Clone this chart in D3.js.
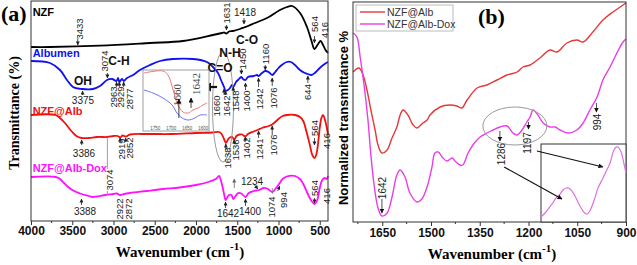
<!DOCTYPE html>
<html><head><meta charset="utf-8">
<script src="https://cdn.jsdelivr.net/npm/d3@7"></script>
<style>body{margin:0;background:#fff}text{font-family:"Liberation Sans",Arial,sans-serif}</style>
</head><body>
<svg id="c" width="637" height="265"></svg>
<script>
// ---------- Panel (a) spectra: [wavenumber, transmittance (a.u.)] ----------
const nzfA = [[4000,174],[3770,174],[3164,175.3],[2558,178],[2158,180],[1794,186],[1685,188],[1660,188.5],[1631,187.5],[1600,189.5],[1552,190],[1467,192],[1418,193.5],[1370,195],[1285,198],[1139,203],[982,211],[897,214],[836,215],[739,208],[655,194],[600,180],[564,172],[520,177],[490,180],[460,176],[430,171],[400,168]];
const albumenA = [[4000,160],[3770,158],[3648,151],[3564,141],[3491,134],[3382,132],[3248,132],[3164,135],[3079,141],[3018,142],[2963,140],[2945,143],[2929,139],[2897,142],[2877,140],[2836,143],[2764,146],[2679,151],[2558,156],[2436,160],[2279,162],[2036,162],[1867,159],[1794,154],[1733,148],[1697,141],[1660,134],[1642,130],[1612,131],[1588,133],[1564,136],[1548,134],[1515,139],[1491,141],[1450,144],[1430,142],[1400,141],[1370,144],[1300,145],[1260,146],[1242,145],[1200,148],[1160,150],[1120,149],[1076,146],[1040,149],[1000,153],[960,156],[900,159],[850,159],[800,156],[740,151],[680,148],[644,147],[600,146],[560,148],[500,153],[440,157],[400,159]];
const nzfAlbA = [[4000,106],[3700,106],[3650,103],[3600,99],[3550,94],[3500,89],[3450,85],[3386,83],[3300,83],[3200,84],[3074,84],[3000,85],[2950,85],[2919,83.5],[2890,85.5],[2852,84.5],[2800,86.5],[2600,87],[2300,87],[2000,88],[1800,88.5],[1720,89],[1690,87],[1660,82],[1638,78],[1615,81],[1590,83.5],[1560,84],[1536,81],[1510,85],[1470,86.5],[1440,86.5],[1402,84.5],[1370,87],[1300,89.5],[1241,91.5],[1200,93],[1120,95],[1076,96.5],[1040,99],[1000,102],[950,105],[900,106],[800,106],[740,104],[700,100],[660,89],[620,76],[590,66],[564,63],[540,67],[520,78],[500,93],[480,103],[460,106],[440,102],[416,94],[400,86]];
const nzfAlbDoxA = [[4000,44],[3700,44],[3650,42],[3600,38],[3550,34],[3500,31],[3450,29],[3388,27],[3300,25],[3250,24],[3200,24.5],[3100,26],[3000,27],[2960,27.5],[2922,26],[2872,27],[2800,28],[2600,30],[2400,32],[2200,33.5],[2000,36],[1850,39],[1760,42],[1720,45],[1700,41],[1675,33],[1655,25],[1642,21],[1625,23],[1600,26],[1570,26],[1548,22],[1520,25],[1490,28],[1450,27.5],[1400,24],[1360,28],[1300,30],[1234,31],[1180,33],[1140,32.5],[1074,29],[1040,32],[994,37],[950,42],[900,44.5],[800,45],[740,42],[700,37],[650,28],[600,20],[564,17],[530,21],[500,33],[470,41],[440,43],[416,42],[400,45]];
// inset (a): 1785-1585 cm-1
const insetRedA = [[1785,59],[1726,61],[1710,57],[1694,42],[1679,27],[1663,20],[1647,19],[1632,22],[1616,24],[1601,27],[1588,29]];
const insetBlueA = [[1785,42],[1757,39],[1726,34],[1697,27],[1682,19],[1666,14],[1647,12],[1626,14],[1610,17],[1588,17]];
const insetTicksA = [1750,1700,1650,1600];
const ticksA = [4000,3500,3000,2500,2000,1500,1000,500];
const minorA = [3750,3250,2750,2250,1750,1250,750];

// ---------- Panel (b) spectra ----------
const nzfAlbB = [[1740,150],[1721.5,154],[1709,147],[1697,132],[1685,112],[1672,92],[1663,77],[1651,69],[1635,72],[1620,84],[1605,95],[1595,107],[1586,112],[1571,107],[1555,97],[1543,94],[1525,99],[1512,102],[1503,107],[1472,115],[1442,117],[1420,116],[1405,114],[1389,122],[1358,134],[1328,137],[1297,142],[1266,147],[1235,150],[1217,155],[1195,157],[1165,164],[1134,172],[1112,170],[1082,179],[1051,182],[1032,180],[1002,190],[971,202],[940,210],[909,217],[900,219]];
const nzfAlbDoxB = [[1740,189],[1728,185],[1718,165],[1706,137],[1694,102],[1685,67],[1675,37],[1663,14],[1651,6],[1635,9],[1620,25],[1605,47],[1595,52],[1580,45],[1565,29],[1543,20],[1528,23],[1512,35],[1497,55],[1488,69],[1478,70],[1463,64],[1451,61],[1435,64],[1426,61],[1411,57],[1402,57],[1386,69],[1371,77],[1349,85],[1328,89],[1309,92],[1288,95],[1266,96],[1248,89],[1235,87],[1220,92],[1205,100],[1195,105],[1186,112],[1171,107],[1155,99],[1134,95],[1118,95],[1103,92],[1078,89],[1051,92],[1032,99],[1011,112],[989,125],[971,142],[949,155],[928,169],[909,180],[900,183]];
const insetB = [[1320,5],[1311,10],[1300,18],[1291,25],[1285,28],[1280,32],[1274,34],[1267,33],[1258,26],[1249,16],[1242,10],[1236,8],[1231,11],[1223,22],[1216,34],[1207,44],[1200,52],[1194,59],[1189,69],[1185,74],[1180,75],[1174,70],[1169,59],[1165,49]];
const ticksB = [1650,1500,1350,1200,1050,900];
const minorB = [1725,1575,1425,1275,1125,975];
const legendB = ["NZF@Alb","NZF@Alb-Dox"];

// annotations panel (a): [text, wavenumber, T]
const rotA = [["3433",3406,192],["1631",1631,208],["564",558,197],["416",436,191],
["3074",3103,160],["2963",2994,124],["2929",2909,124],["2877",2800,122],
["1660",1745,115],["1642",1624,115],["1548",1515,120],["1450",1430,162],["1400",1382,120],["1242",1224,122],["1160",1152,167],["1076",1055,123],["644",642,129],
["3074",3042,41],["2919",2897,72],["2852",2800,73],["1638",1612,63],["1536",1515,71],["1402",1382,73],["1241",1224,72],["1076",1055,76],["564",558,93],["416",412,80],
["2922",2930,12],["2872",2820,12],["1074",1079,14],["994",933,21],["564",558,33],["416",412,25]];
const horA = [["1418",1406,209],["3375",3370,121],["3386",3358,68],["3388",3345,10],["1642",1612,8],["1400",1345,10],["1234",1321,40]];
const boldA = [["OH",3370,140],["C-H",2933,160],["N-H",1588,168],["C=O",1709,153],["C-O",1382,181]];
const arrowsA = [[3433,182,176],[1631,196,191],[1418,203,197],[564,185,178],
[3375,126,130],[3074,148,143],[2963,134,139],[2929,134,139],[2877,134,139],[1660,126,132],[1642,126,130],[1548,130,134],[1450,152,147],[1400,131,138],[1242,134,143],[1160,156,151],[1076,135,143],[644,138,145],
[3386,76,81],[2919,79,83],[2852,79,83],[1638,71,77],[1536,77,81],[1402,80,84],[1241,83,90],[1076,86,95],[564,83,76],
[3388,16,22],[1642,13,19],[1400,15,22],[564,23,18]];
const grayA = [[3074,84,52],[3074,30,26],[1074,33,27]];

const svg = d3.select("#c");
const defs = svg.append("defs");
function marker(id, size, col){
  defs.append("marker").attr("id",id).attr("viewBox","0 0 10 10").attr("refX",9).attr("refY",5)
   .attr("markerWidth",size).attr("markerHeight",size).attr("markerUnits","userSpaceOnUse").attr("orient","auto")
   .append("path").attr("d","M0,0L10,5L0,10z").attr("fill",col);
}
marker("ah",4,"#222"); marker("ahb",9,"#111"); marker("ahg",4,"#666"); marker("ahs",5,"#111");

// ---------- Panel (a) ----------
const xA = d3.scaleLinear().domain([4000,400]).range([31,328]);
const yA = d3.scaleLinear().domain([0,220]).range([221,1]);
const gA = svg.append("g");
const lineA = d3.line().x(d=>xA(d[0])).y(d=>yA(d[1])).curve(d3.curveCatmullRom.alpha(0.5));
[[nzfA,"#000"],[albumenA,"#1010f0"],[nzfAlbA,"#f01010"],[nzfAlbDoxA,"#ff10ff"]].forEach(([d,c])=>{
  gA.append("path").datum(d).attr("d",lineA).attr("fill","none").attr("stroke",c).attr("stroke-width",1.8);
});
gA.append("rect").attr("x",31).attr("y",1).attr("width",297).attr("height",220).attr("fill","none").attr("stroke","#333").attr("stroke-width",1);
const axA = gA.append("g").attr("transform","translate(0,221)").call(d3.axisBottom(xA).tickValues(ticksA).tickSize(4).tickPadding(1).tickFormat(d3.format("d")));
axA.select(".domain").remove();
axA.selectAll("text").attr("font-size",12).attr("font-weight","bold").attr("fill","#111").style("font-family","Liberation Sans, Arial");
axA.selectAll("line").attr("stroke","#333");
gA.selectAll(".mnA").data(minorA).join("line").attr("x1",d=>xA(d)).attr("x2",d=>xA(d)).attr("y1",221).attr("y2",223).attr("stroke","#333");

// series labels
[["NZF","#000",205],["Albumen","#1010f0",164],["NZF@Alb","#f01010",106],["NZF@Alb-Dox","#ff10ff",49]].forEach(([t,c,v])=>{
  gA.append("text").attr("x",xA(3980)).attr("y",yA(v)).attr("font-size",11).attr("font-weight","bold").attr("fill",c).text(t);
});
// ellipse
gA.append("ellipse").attr("cx",xA(1673)).attr("cy",yA(114)).attr("rx",10.5).attr("ry",55).attr("fill","none").attr("stroke","#999").attr("stroke-width",1);
// annotations
gA.selectAll(".ra").data(rotA).join("text").attr("transform",d=>`translate(${xA(d[1])},${yA(d[2])}) rotate(-90)`)
  .attr("text-anchor","middle").attr("dy","0.35em").attr("font-size",9.5).attr("fill","#222").text(d=>d[0]);
gA.selectAll(".ha").data(horA).join("text").attr("x",d=>xA(d[1])).attr("y",d=>yA(d[2])).attr("dy","0.35em")
  .attr("text-anchor","middle").attr("font-size",10).attr("fill","#222").text(d=>d[0]);
gA.selectAll(".ba").data(boldA).join("text").attr("x",d=>xA(d[1])).attr("y",d=>yA(d[2])).attr("dy","0.35em")
  .attr("text-anchor","middle").attr("font-size",12).attr("font-weight","bold").attr("fill","#111").text(d=>d[0]);
gA.selectAll(".aa").data(arrowsA).join("line").attr("x1",d=>xA(d[0])).attr("x2",d=>xA(d[0])).attr("y1",d=>yA(d[1])).attr("y2",d=>yA(d[2]))
  .attr("stroke","#222").attr("stroke-width",0.8).attr("marker-end","url(#ah)");
gA.selectAll(".ga").data(grayA).join("line").attr("x1",d=>xA(d[0])).attr("x2",d=>xA(d[0])).attr("y1",d=>yA(d[1])).attr("y2",d=>yA(d[2]))
  .attr("stroke","#888").attr("stroke-width",0.8);
gA.append("line").attr("x1",xA(1536)).attr("x2",xA(1536)).attr("y1",yA(33)).attr("y2",yA(42)).attr("stroke","#666").attr("stroke-width",0.8).attr("marker-end","url(#ahg)");
gA.append("line").attr("x1",xA(1290)).attr("x2",xA(1250)).attr("y1",yA(36)).attr("y2",yA(32)).attr("stroke","#222").attr("stroke-width",0.8).attr("marker-end","url(#ah)");
gA.append("line").attr("x1",xA(1010)).attr("x2",xA(985)).attr("y1",yA(30)).attr("y2",yA(35)).attr("stroke","#222").attr("stroke-width",0.8).attr("marker-end","url(#ah)");
// big arrow to inset
gA.append("line").attr("x1",xA(1745)).attr("x2",xA(1915)).attr("y1",yA(134)).attr("y2",yA(134)).attr("stroke","#111").attr("stroke-width",2.2).attr("marker-end","url(#ahb)");

// inset (a)
const xIa = d3.scaleLinear().domain([1785,1585]).range([144,208]);
const yIa = d3.scaleLinear().domain([0,62]).range([132,70]);
const gI = gA.append("g");
gI.append("rect").attr("x",143).attr("y",70).attr("width",66).attr("height",61).attr("fill","#fff").attr("stroke","#888").attr("stroke-width",0.8);
const lineIa = d3.line().x(d=>xIa(d[0])).y(d=>yIa(d[1])).curve(d3.curveCatmullRom.alpha(0.5));
gI.append("path").datum(insetRedA).attr("d",lineIa).attr("fill","none").attr("stroke","#f07878").attr("stroke-width",1);
gI.append("path").datum(insetBlueA).attr("d",lineIa).attr("fill","none").attr("stroke","#7070f0").attr("stroke-width",1);
gI.selectAll(".it").data(insetTicksA).join("text").attr("x",d=>xIa(d)).attr("y",130).attr("text-anchor","middle").attr("font-size",4.5).attr("fill","#555").text(d=>d);
gI.selectAll(".itk").data(insetTicksA).join("line").attr("x1",d=>xIa(d)).attr("x2",d=>xIa(d)).attr("y1",125).attr("y2",126.5).attr("stroke","#888").attr("stroke-width",0.5);
[["1660",1682,37],["1642",1622,48]].forEach(([t,w,v])=>{
  gI.append("text").attr("transform",`translate(${xIa(w)},${yIa(v)}) rotate(-90)`).attr("text-anchor","middle").attr("dy","0.35em")
   .attr("font-size",11).attr("fill","#444").style("font-family","Liberation Serif, Times New Roman, serif").text(t);
});
[[1676,14,33],[1638,24,34]].forEach(([w,v1,v2])=>{
  gI.append("line").attr("x1",xIa(w)).attr("x2",xIa(w)).attr("y1",yIa(v1)).attr("y2",yIa(v2)).attr("stroke","#111").attr("stroke-width",0.8).attr("marker-end","url(#ahs)");
});

// labels (a)
svg.append("text").attr("x",1).attr("y",21).attr("font-size",22).attr("font-weight","bold").style("font-family","Liberation Serif, serif").text("(a)");
svg.append("text").attr("transform","translate(19,113) rotate(-90)").attr("text-anchor","middle").attr("font-size",14).attr("font-weight","bold").style("font-family","Liberation Serif, serif").text("Transmittance (%)");
const xlA = svg.append("text").attr("x",180).attr("y",257).attr("text-anchor","middle").attr("font-size",15).attr("font-weight","bold").style("font-family","Liberation Serif, serif");
xlA.append("tspan").text("Wavenumber (cm");
xlA.append("tspan").attr("dy",-7).attr("font-size",11).text("-1");
xlA.append("tspan").attr("dy",7).text(")");

// ---------- Panel (b) ----------
const xB = d3.scaleLinear().domain([1740,900]).range([353,626]);
const yB = d3.scaleLinear().domain([0,220]).range([222,2]);
const gB = svg.append("g");
const lineB = d3.line().x(d=>xB(d[0])).y(d=>yB(d[1])).curve(d3.curveCatmullRom.alpha(0.5));
gB.append("path").datum(nzfAlbB).attr("d",lineB).attr("fill","none").attr("stroke","#e53838").attr("stroke-width",1.4);
gB.append("path").datum(nzfAlbDoxB).attr("d",lineB).attr("fill","none").attr("stroke","#e83ee8").attr("stroke-width",1.4);
gB.append("rect").attr("x",353).attr("y",2).attr("width",273).attr("height",220).attr("fill","none").attr("stroke","#333").attr("stroke-width",1);
const axB = gB.append("g").attr("transform","translate(0,222)").call(d3.axisBottom(xB).tickValues(ticksB).tickSize(4).tickPadding(2).tickFormat(d3.format("d")));
axB.select(".domain").remove();
axB.selectAll("text").attr("font-size",12).attr("font-weight","bold").attr("fill","#111").style("font-family","Liberation Sans, Arial");
axB.selectAll("line").attr("stroke","#333");
gB.selectAll(".mnB").data(minorB).join("line").attr("x1",d=>xB(d)).attr("x2",d=>xB(d)).attr("y1",222).attr("y2",224).attr("stroke","#333");

// legend
const lg = gB.append("g");
lg.append("rect").attr("x",356).attr("y",5).attr("width",97).attr("height",26).attr("fill","#fff").attr("stroke","#aaa").attr("stroke-width",0.8);
legendB.forEach((t,i)=>{
  const c = i===0?"#e53838":"#e83ee8";
  lg.append("line").attr("x1",360).attr("x2",385).attr("y1",12+i*12).attr("y2",12+i*12).attr("stroke",c).attr("stroke-width",1.4);
  lg.append("text").attr("x",387).attr("y",12+i*12).attr("dy","0.35em").attr("font-size",10.5).attr("fill","#333").text(t);
});
// ellipse b
gB.append("ellipse").attr("cx",xB(1242)).attr("cy",yB(96)).attr("rx",32).attr("ry",19).attr("fill","none").attr("stroke","#999").attr("stroke-width",1);
// inset b
const xIb = d3.scaleLinear().domain([1320,1165]).range([541,626]);
const yIb = d3.scaleLinear().domain([0,78]).range([222,144]);
gB.append("rect").attr("x",541).attr("y",144).attr("width",85).attr("height",78).attr("fill","#fff").attr("stroke","#333").attr("stroke-width",1);
gB.append("path").datum(insetB).attr("d",d3.line().x(d=>xIb(d[0])).y(d=>yIb(d[1])).curve(d3.curveCatmullRom.alpha(0.5)))
  .attr("fill","none").attr("stroke","#e070e0").attr("stroke-width",1.2);
// annotations b
const rotB = [["1642",1648,34],["1286",1282,68],["1197",1202,79],["994",989,100]];
const arrowsB = [[1651,23,9],[1288,91,81],[1200,100,93],[991,119,110]];
gB.selectAll(".rb").data(rotB).join("text").attr("transform",d=>`translate(${xB(d[1])},${yB(d[2])}) rotate(-90)`)
  .attr("text-anchor","middle").attr("dy","0.35em").attr("font-size",10).attr("fill","#222").text(d=>d[0]);
gB.selectAll(".ab").data(arrowsB).join("line").attr("x1",d=>xB(d[0])).attr("x2",d=>xB(d[0])).attr("y1",d=>yB(d[1])).attr("y2",d=>yB(d[2]))
  .attr("stroke","#222").attr("stroke-width",0.8).attr("marker-end","url(#ahs)");
[[[1275,55],[1097,23]],[[1174,71],[971,55]]].forEach(([a,b])=>{
  gB.append("line").attr("x1",xB(a[0])).attr("y1",yB(a[1])).attr("x2",xB(b[0])).attr("y2",yB(b[1])).attr("stroke","#111").attr("stroke-width",1.2).attr("marker-end","url(#ahs)");
});
svg.append("text").attr("x",478).attr("y",24).attr("font-size",22).attr("font-weight","bold").style("font-family","Liberation Serif, serif").text("(b)");
svg.append("text").attr("transform","translate(348,118) rotate(-90)").attr("text-anchor","middle").attr("font-size",13).attr("font-weight","bold").text("Normalized transmittance %");
const xlB = svg.append("text").attr("x",492).attr("y",259).attr("text-anchor","middle").attr("font-size",15).attr("font-weight","bold").style("font-family","Liberation Serif, serif");
xlB.append("tspan").text("Wavenumber (cm");
xlB.append("tspan").attr("dy",-7).attr("font-size",11).text("-1");
xlB.append("tspan").attr("dy",7).text(")");
</script>
</body></html>
